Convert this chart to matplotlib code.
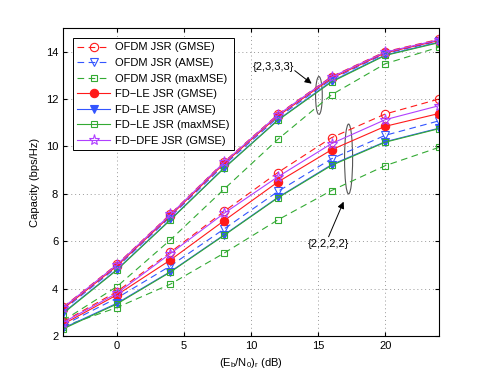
import matplotlib
matplotlib.use("Agg")
import matplotlib.pyplot as plt
from matplotlib.patches import Ellipse

plt.rcParams['font.family'] = ['Liberation Sans', 'DejaVu Sans']
plt.rcParams['mathtext.fontset'] = 'custom'
plt.rcParams['mathtext.rm'] = 'Liberation Sans'

# SNR points (dB)
snr = [-4, 0, 4, 8, 12, 16, 20, 24]

# upper group {2,3,3,3}
ofdm_gmse_hi = [3.22, 5.02, 7.15, 9.35, 11.35, 12.95, 14.0, 14.52]
ofdm_amse_hi = [3.1, 4.9, 7.03, 9.22, 11.22, 12.83, 13.92, 14.45]
ofdm_max_hi = [2.65, 4.08, 6.06, 8.2, 10.3, 12.18, 13.49, 14.19]
fdle_gmse_hi = [3.15, 4.95, 7.08, 9.28, 11.28, 12.88, 13.95, 14.47]
fdle_amse_hi = [2.98, 4.8, 6.92, 9.1, 11.12, 12.75, 13.86, 14.4]
fdle_max_hi = [2.95, 4.78, 6.9, 9.08, 11.1, 12.72, 13.84, 14.38]
fddfe_gmse_hi = [3.2, 5.0, 7.13, 9.33, 11.33, 12.93, 13.98, 14.5]

# lower group {2,2,2,2}
ofdm_gmse_lo = [2.6, 3.87, 5.54, 7.26, 8.9, 10.37, 11.37, 12.0]
ofdm_amse_lo = [2.45, 3.6, 4.96, 6.52, 8.1, 9.48, 10.47, 11.08]
ofdm_max_lo = [2.4, 3.2, 4.19, 5.5, 6.9, 8.14, 9.19, 9.96]
fdle_gmse_lo = [2.5, 3.73, 5.21, 6.87, 8.5, 9.86, 10.85, 11.39]
fdle_amse_lo = [2.33, 3.38, 4.72, 6.27, 7.85, 9.23, 10.2, 10.77]
fdle_max_lo = [2.3, 3.35, 4.7, 6.25, 7.83, 9.2, 10.18, 10.75]
fddfe_gmse_lo = [2.57, 3.8, 5.48, 7.18, 8.72, 10.12, 11.13, 11.72]

labels = ['OFDM JSR (GMSE)', 'OFDM JSR (AMSE)', 'OFDM JSR (maxMSE)',
          'FD\u2212LE JSR (GMSE)', 'FD\u2212LE JSR (AMSE)', 'FD\u2212LE JSR (maxMSE)',
          'FD\u2212DFE JSR (GMSE)']

red = '#ff1a1a'
blue = '#3355ff'
green = '#33aa33'
purple = '#b040ff'

styles = [
    dict(color=red, ls=(0, (6, 4)), marker='o', mfc='none', ms=6),
    dict(color=blue, ls=(0, (6, 4)), marker='v', mfc='none', ms=6),
    dict(color=green, ls=(0, (6, 4)), marker='s', mfc='none', ms=5),
    dict(color=red, ls='-', marker='o', mfc=red, ms=6),
    dict(color=blue, ls='-', marker='v', mfc=blue, ms=6),
    dict(color=green, ls='-', marker='s', mfc='none', ms=5),
    dict(color=purple, ls='-', marker='*', mfc='none', ms=8),
]

hi = [ofdm_gmse_hi, ofdm_amse_hi, ofdm_max_hi, fdle_gmse_hi, fdle_amse_hi, fdle_max_hi, fddfe_gmse_hi]
lo = [ofdm_gmse_lo, ofdm_amse_lo, ofdm_max_lo, fdle_gmse_lo, fdle_amse_lo, fdle_max_lo, fddfe_gmse_lo]

fig = plt.figure(figsize=(4.85, 3.78), dpi=100)
ax = fig.add_axes([0.13, 0.111, 0.775, 0.815])

for ys, st, lab in zip(hi, styles, labels):
    ax.plot(snr, ys, lw=0.8, mew=0.8, label=lab, **st)
for ys, st in zip(lo, styles):
    ax.plot(snr, ys, lw=0.8, mew=0.8, **st)

# ellipses marking the two groups
ax.add_patch(Ellipse((15.06, 12.15), 0.5, 1.6, fill=False, ec='#555555', lw=0.8))
ax.add_patch(Ellipse((17.27, 9.47), 0.6, 2.95, fill=False, ec='#555555', lw=0.8))

arrow = dict(arrowstyle='-|>', color='black', lw=0.7, mutation_scale=10, shrinkA=0, shrinkB=0)
ax.text(11.7, 13.36, '{2,3,3,3}', ha='center', va='center', fontsize=8)
ax.annotate('', xy=(14.52, 12.65), xytext=(13.26, 13.2), arrowprops=arrow)
ax.text(15.8, 5.9, '{2,2,2,2}', ha='center', va='center', fontsize=8)
ax.annotate('', xy=(16.9, 7.67), xytext=(15.78, 6.19), arrowprops=arrow)

ax.set_xlim(-4, 24)
ax.set_ylim(2, 15)
ax.set_xticks([0, 5, 10, 15, 20])
ax.set_yticks([2, 4, 6, 8, 10, 12, 14])
ax.tick_params(direction='in', labelsize=8, length=3, top=True, right=True,
               labeltop=False, labelright=False)
ax.grid(True, ls=(0, (1, 3)), color='#999999', lw=0.7)
for sp in ax.spines.values():
    sp.set_linewidth(0.8)

ax.set_xlabel(r'(E$_\mathrm{b}$/N$_\mathrm{0}$)$_\mathrm{r}$ (dB)', fontsize=8)
ax.set_ylabel('Capacity (bps/Hz)', fontsize=8)

leg = ax.legend(loc='upper left', fontsize=8, fancybox=False, framealpha=1,
                edgecolor='black', handlelength=2.9, labelspacing=0.5,
                borderpad=0.4, handletextpad=0.5, borderaxespad=0.9)
leg.get_frame().set_linewidth(0.7)

fig.savefig('out.png', dpi=100)
